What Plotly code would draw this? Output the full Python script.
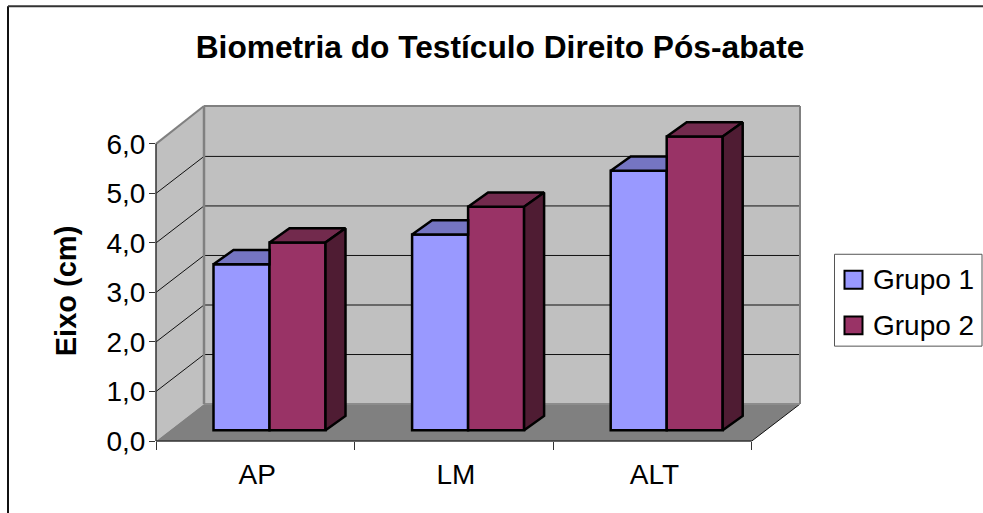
import plotly.graph_objects as go

categories = ["AP", "LM", "ALT"]
grupo1 = [3.35, 3.95, 5.24]
grupo2 = [3.79, 4.51, 5.93]
y_ticks = [0, 1, 2, 3, 4, 5, 6]

W, H = 983, 513
L, R, T, B = 156, 800, 106, 441.5
PX_X = 198.6   # pixels per category
PX_Y = 49.6    # pixels per unit
wall_dx, wall_dy = 48 / PX_X, 37 / PX_Y     # depth of the box
bar_ox, bar_oy = 14.2 / PX_X, 10.8 / PX_Y   # bar plane inside the box
bar_dx, bar_dy = 20 / PX_X, 14.3 / PX_Y     # depth of a bar
bar_w = 56 / PX_X
n = len(categories)
y_top = (B - T) / PX_Y
x_top = (R - L) / PX_X
FONT = "Liberation Sans"

G1_FRONT, G1_TOP = "#9999FF", "#7575C2"
G2_FRONT, G2_TOP, G2_SIDE = "#993366", "#722A4D", "#4F1C33"
WALL, FLOOR, EDGE = "#C0C0C0", "#808080", "#808080"


def poly(xs, ys, color, lw=1.0, lc="black"):
    path = "M" + "L".join(f"{x},{y}" for x, y in zip(xs, ys)) + "Z"
    return dict(type="path", path=path, xref="x", yref="y", layer="below",
                fillcolor=color, line=dict(color=lc, width=lw))


def dline(x0, y0, x1, y1, color="#111111", width=1):
    return dict(type="line", xref="x", yref="y", layer="below", x0=x0, y0=y0, x1=x1, y1=y1,
                line=dict(color=color, width=width))


def aline(x0, y0, x1, y1, color, width):
    # line given in axis units on paper refs, so that it is not clipped at the plot edge
    return dict(type="line", xref="paper", yref="paper", layer="above",
                x0=x0 / x_top, y0=y0 / y_top, x1=x1 / x_top, y1=y1 / y_top,
                line=dict(color=color, width=width))


shapes = [
    poly([wall_dx, x_top, x_top, wall_dx], [wall_dy, wall_dy, y_top, y_top], WALL, 0),
    poly([0, wall_dx, wall_dx, 0], [0, wall_dy, y_top, 6], WALL, 0),
    poly([0, n, x_top, wall_dx], [0, 0, wall_dy, wall_dy], FLOOR, 0),
]
for v in y_ticks[1:-1]:
    shapes.append(dline(0, v, wall_dx, v + wall_dy))
    shapes.append(dline(wall_dx, v + wall_dy, x_top, v + wall_dy))
shapes.append(dline(n, 0, x_top, wall_dy))
shapes.append(dline(wall_dx, wall_dy, x_top, wall_dy, "#8C8C8C", 2))
shapes.append(dline(wall_dx, wall_dy, wall_dx, y_top, EDGE, 2.5))
shapes.append(aline(0, 6, wall_dx, y_top, EDGE, 2))
shapes.append(aline(wall_dx, y_top, x_top, y_top, EDGE, 2))
shapes.append(aline(x_top, y_top, x_top, wall_dy, EDGE, 2))
shapes.append(aline(0, 0, 0, 6, "#333333", 1.5))
shapes.append(aline(0, 0, n, 0, "#333333", 1.5))


def px(x):
    return (x - L) / (R - L)


def py(y):
    return (B - y) / (B - T)


def prect(x0, y0, x1, y1, fill, lc, lw):
    return dict(type="rect", xref="paper", yref="paper", x0=px(x0), x1=px(x1), y0=py(y0), y1=py(y1),
                fillcolor=fill, line=dict(color=lc, width=lw), layer="above")


shapes.append(dict(type="line", xref="paper", yref="paper", x0=px(8), x1=px(8), y0=py(6), y1=py(H + 5),
                   line=dict(color="#111111", width=2), layer="above"))
shapes.append(dict(type="line", xref="paper", yref="paper", x0=px(8), x1=px(W + 5), y0=py(6), y1=py(6),
                   line=dict(color="#333333", width=2), layer="above"))

# legend box and swatches
legend_names = ["Grupo 1", "Grupo 2"]
legend_cols = [G1_FRONT, G2_FRONT]
legend_y = [280, 325.7]
shapes.append(prect(834.5, 254.5, 982, 346.5, "white", "#555555", 1))
for yc, col in zip(legend_y, legend_cols):
    shapes.append(prect(844.5, yc - 9, 862.5, yc + 9, col, "black", 2))
annotations = [dict(text=nm, xref="paper", yref="paper", x=px(871), y=py(yc), xanchor="left", yanchor="middle",
                    showarrow=False, font=dict(size=28, family=FONT, color="black"))
               for nm, yc in zip(legend_names, legend_y)]
annotations.append(dict(text="<b>Eixo (cm)</b>", xref="paper", yref="paper", x=px(66), y=py(291.5),
                        xanchor="center", yanchor="middle", textangle=-90, showarrow=False,
                        font=dict(size=29, family=FONT, color="black")))

fig = go.Figure()

xs1 = [i + 0.5 + bar_ox - bar_w / 2 for i in range(n)]
xs2 = [i + 0.5 + bar_ox + bar_w / 2 for i in range(n)]
for name, xs, vals, col in [("Grupo 1", xs1, grupo1, G1_FRONT), ("Grupo 2", xs2, grupo2, G2_FRONT)]:
    fig.add_trace(go.Bar(x=xs, y=vals, base=bar_oy, width=bar_w, name=name, showlegend=False,
                         marker=dict(color=col, line=dict(color="black", width=2.5))))


def face(xs, ys, color):
    fig.add_trace(go.Scatter(x=xs, y=ys, mode="lines", fill="toself", fillcolor=color,
                             line=dict(color="black", width=2.5), showlegend=False,
                             hoverinfo="skip"))


for i in range(n):
    x0, x1, x2 = xs1[i] - bar_w / 2, xs1[i] + bar_w / 2, xs2[i] + bar_w / 2
    a = grupo1[i] + bar_oy
    b = grupo2[i] + bar_oy
    face([x0, x1, x1, x0 + bar_dx, x0], [a, a, a + bar_dy, a + bar_dy, a], G1_TOP)
    face([x1, x2, x2 + bar_dx, x1 + bar_dx, x1], [b, b, b + bar_dy, b + bar_dy, b], G2_TOP)
    face([x2, x2 + bar_dx, x2 + bar_dx, x2, x2],
         [bar_oy, bar_oy + bar_dy, b + bar_dy, b, bar_oy], G2_SIDE)

fig.update_layout(
    width=W, height=H,
    autosize=False,
    showlegend=False,
    margin=dict(l=L, r=W - R, t=T, b=H - B, pad=0),
    paper_bgcolor="white", plot_bgcolor="rgba(0,0,0,0)",
    separators=",.",
    barmode="overlay",
    shapes=shapes,
    annotations=annotations,
    font=dict(family=FONT, color="black", size=28),
    title=dict(text="<b>Biometria do Testículo Direito Pós-abate</b>", x=500 / W, y=1 - 47 / H,
               xref="container", yref="container", xanchor="center", yanchor="middle",
               font=dict(family=FONT, size=31.7, color="black")),
    xaxis=dict(range=[0, x_top], tickmode="array", tickvals=[i + 0.51 for i in range(n)],
               ticktext=categories, ticks="outside", ticklen=8, tickcolor="rgba(0,0,0,0)",
               showgrid=False, zeroline=False, showline=False,
               tickfont=dict(size=28, family=FONT),
               minor=dict(tickmode="array", tickvals=list(range(n + 1)), ticks="outside", ticklen=8,
                          tickcolor="#333333", tickwidth=1, showgrid=False)),
    yaxis=dict(range=[0, y_top], tickmode="array", tickvals=y_ticks, tickformat=".1f",
               ticks="outside", ticklen=6, tickcolor="#333333", tickwidth=1, ticklabelstandoff=-2,
               showgrid=False, zeroline=False, showline=False,
               tickfont=dict(size=28, family=FONT)),
)
fig.write_html("out.html", post_script="document.body.style.margin='0';",
               config=dict(displayModeBar=False))
